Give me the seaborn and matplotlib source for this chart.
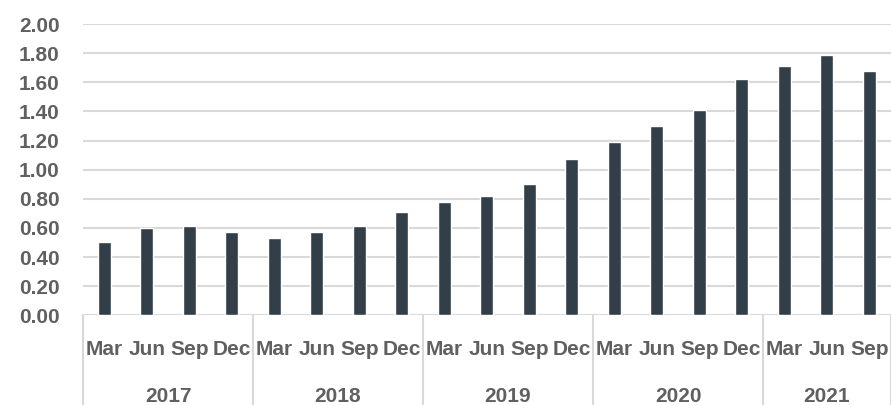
import matplotlib
matplotlib.use("Agg")
import matplotlib.pyplot as plt
import matplotlib.transforms as mtransforms
import seaborn as sns
import pandas as pd

years = ["2017", "2018", "2019", "2020", "2021"]
quarters = ["Mar", "Jun", "Sep", "Dec"]
quarter_counts = [4, 4, 4, 4, 3]
values = [0.50, 0.60, 0.61, 0.57, 0.53, 0.57, 0.61, 0.71,
          0.78, 0.82, 0.90, 1.07, 1.19, 1.30, 1.41, 1.62,
          1.71, 1.79, 1.68]
y_ticks = [0.0, 0.2, 0.4, 0.6, 0.8, 1.0, 1.2, 1.4, 1.6, 1.8, 2.0]

periods, months = [], []
for y, n in zip(years, quarter_counts):
    for q in quarters[:n]:
        periods.append(f"{y} {q}")
        months.append(q)
df = pd.DataFrame({"period": periods, "value": values})

sns.set_theme(style="white")
plt.rcParams["font.family"] = ["Liberation Sans", "DejaVu Sans"]

TEXT = "#606060"
GRID = "#d9d9d9"
BAR = "#333f48"
FS = 15
FW = "bold"

fig = plt.figure(figsize=(8.91, 4.05), dpi=100)
ax = fig.add_axes([83 / 891, 89.7 / 405, 807.5 / 891, 291.3 / 405])

sns.barplot(data=df, x="period", y="value", order=periods, color=BAR,
            width=0.31, saturation=1, ax=ax, zorder=3)
ax.set_xlim(-0.5, len(periods) - 0.5)
ax.set_ylim(0, 2.0)
ax.set_yticks(y_ticks)
ax.set_yticklabels([f"{t:.2f}" for t in y_ticks], fontsize=FS,
                   color=TEXT, fontweight=FW)
ax.yaxis.grid(True, color=GRID, linewidth=1.5, zorder=0)
ax.set_axisbelow(True)
for s in ax.spines.values():
    s.set_visible(False)
ax.tick_params(axis="y", length=0, pad=17)
ax.set_xticks(range(len(periods)))
ax.set_xticklabels(months, fontsize=FS, color=TEXT, fontweight=FW)
ax.tick_params(axis="x", length=0, pad=18)
ax.set_xlabel("")
ax.set_ylabel("")

trans = mtransforms.blended_transform_factory(ax.transData, ax.transAxes)
bottom = -89.7 / 291.3
start = -0.5
bounds = [start]
for y, n in zip(years, quarter_counts):
    end = start + n
    ax.text((start + end) / 2, -81.5 / 291.3, y, transform=trans,
            ha="center", va="center", fontsize=FS, color=TEXT,
            fontweight=FW)
    bounds.append(end)
    start = end
for b in bounds:
    ax.plot([b, b], [0, bottom], transform=trans, color=GRID,
            linewidth=1.5, clip_on=False)

fig.savefig("out.png", dpi=100)
